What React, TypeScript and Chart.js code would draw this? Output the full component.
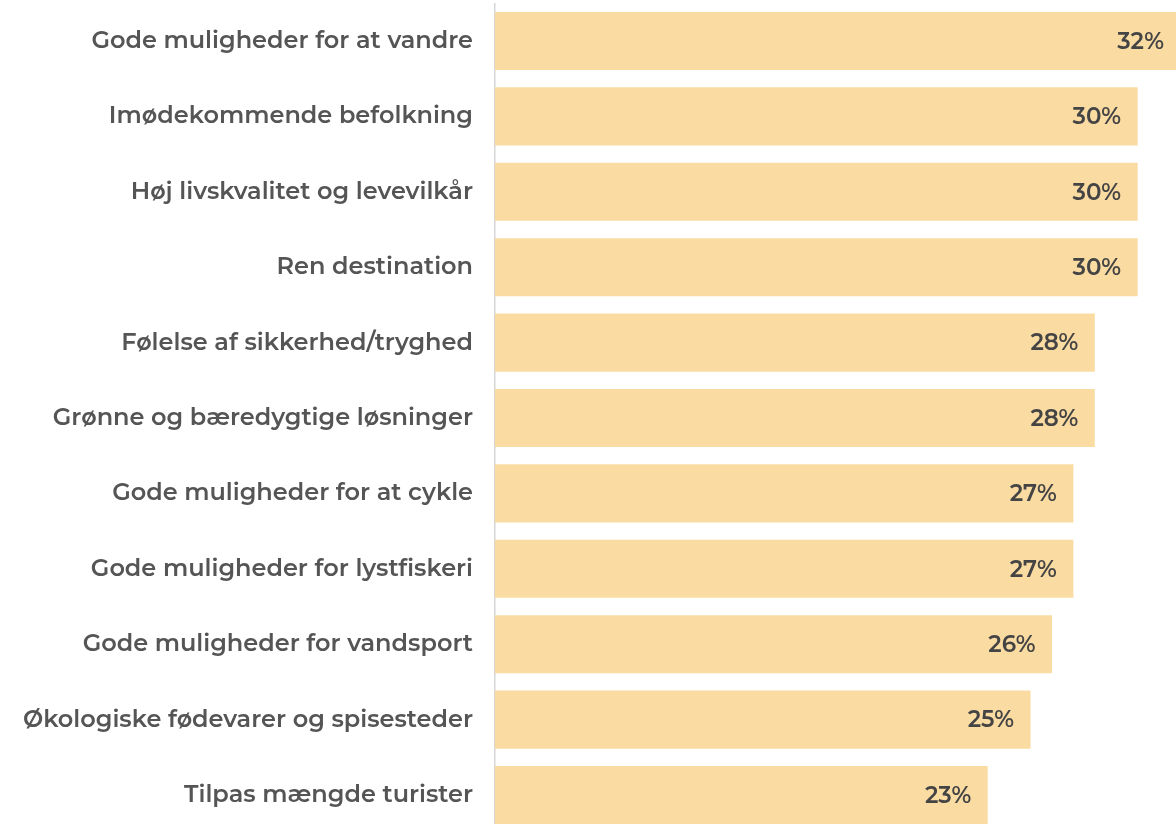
import React, { useEffect, useRef } from "react";
import { Chart, registerables } from "chart.js";

Chart.register(...registerables);

const categories: string[] = [
  "Gode muligheder for at vandre",
  "Imødekommende befolkning",
  "Høj livskvalitet og levevilkår",
  "Ren destination",
  "Følelse af sikkerhed/tryghed",
  "Grønne og bæredygtige løsninger",
  "Gode muligheder for at cykle",
  "Gode muligheder for lystfiskeri",
  "Gode muligheder for vandsport",
  "Økologiske fødevarer og spisesteder",
  "Tilpas mængde turister",
];

const values: number[] = [32, 30, 30, 30, 28, 28, 27, 27, 26, 25, 23];

const FONT = "Montserrat, Inter, 'Open Sans', sans-serif";

const valueLabels = {
  id: "valueLabels",
  afterDatasetsDraw(chart: any) {
    const ctx = chart.ctx;
    const meta = chart.getDatasetMeta(0);
    ctx.save();
    ctx.font = `600 23px ${FONT}`;
    ctx.fillStyle = "#444444";
    ctx.textAlign = "right";
    ctx.textBaseline = "middle";
    meta.data.forEach((bar: any, i: number) => {
      ctx.fillText(`${values[i]}%`, bar.x - 16.5, bar.y + 1);
    });
    ctx.restore();
  },
};

export default function App() {
  const ref = useRef<HTMLCanvasElement | null>(null);
  useEffect(() => {
    if (!ref.current) return;
    const chart = new Chart(ref.current, {
      type: "bar",
      data: {
        labels: categories,
        datasets: [
          {
            data: values,
            backgroundColor: "#FADBA2",
            borderWidth: 0,
            categoryPercentage: 1,
            barPercentage: 0.77,
          },
        ],
      },
      options: {
        indexAxis: "y",
        animation: false,
        responsive: false,
        maintainAspectRatio: false,
        layout: { padding: { top: 3.3, bottom: 3.3, left: 0, right: 0 } },
        plugins: {
          legend: { display: false },
          tooltip: { enabled: false },
        },
        scales: {
          x: { display: false, min: 0, max: 31.79 },
          y: {
            afterFit(scale: any) {
              scale.width = 495;
              scale.paddingTop = 0;
              scale.paddingBottom = 0;
            },
            grid: { display: false },
            border: { display: true, color: "#d6d6d6", width: 1.5 },
            ticks: {
              padding: 14,
              color: "#555555",
              font: { family: FONT, size: 24, weight: "600" },
            },
          },
        },
      },
      plugins: [valueLabels],
    });
    return () => chart.destroy();
  }, []);
  return (
    <div style={{ position: "fixed", left: 0, top: 0, width: 1176, height: 824, overflow: "hidden", background: "#fff" }}>
      <canvas ref={ref} width={1176} height={836} style={{ display: "block" }} />
    </div>
  );
}
